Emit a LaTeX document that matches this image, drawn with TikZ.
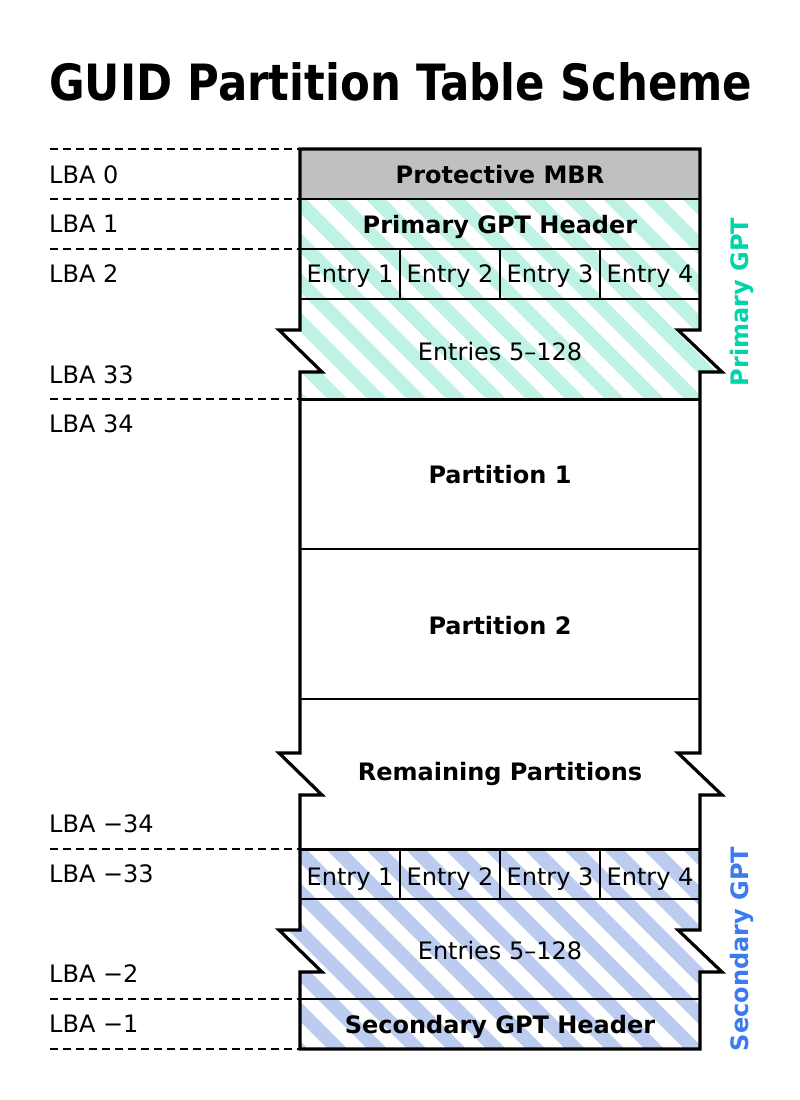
\documentclass[tikz,border=0pt]{standalone}
\usepackage{fontspec}
\setmainfont{DejaVu Sans}
\usepackage{graphicx}
\definecolor{mbrgray}{HTML}{C0C0C0}
\definecolor{pristripe}{HTML}{BDF2E4}
\definecolor{secstripe}{HTML}{BCCBF0}
\definecolor{pritext}{HTML}{00D4AA}
\definecolor{sectext}{HTML}{3A7BF0}
\newcommand\txtsz{\fontsize{24}{28}\selectfont}
\newcommand\ttlsz{\fontsize{50}{56}\selectfont}
\begin{document}
\begin{tikzpicture}[x=1pt,y=-1pt,
  lbl/.style={anchor=base west,inner sep=0pt,font=\txtsz},
  boxtxt/.style={anchor=base,inner sep=0pt,font=\txtsz},
  boldtxt/.style={anchor=base,inner sep=0pt,font=\txtsz\bfseries},
  sidetxt/.style={anchor=base,inner sep=0pt,rotate=90,font=\txtsz\bfseries},
  guide/.style={dash pattern=on 8pt off 5pt,line width=1.5pt},
  sepline/.style={line width=1.8pt},
  heavysep/.style={line width=3pt},
  border/.style={line width=3.2pt,line join=miter},
  stripeline/.style={line width=14pt}]
\useasboundingbox (0,0) rectangle (800,1100);

% title
\node[anchor=base west,inner sep=0pt] (title) at (49,100)
  {\resizebox{703pt}{\height}{\ttlsz\bfseries GUID Partition Table Scheme}};

% protective MBR
\fill[mbrgray] (300,149) rectangle (700,199);

% primary GPT striped area
\begin{scope}
  \clip (300,199) -- (700,199) -- (700,330) -- (678,330) -- (722,372) -- (700,372)
    -- (700,399) -- (300,399) -- (300,372) -- (322,372) -- (279,330) -- (300,330) -- cycle;
  \fill[white] (270,190) rectangle (730,410);
  \foreach \i in {0,...,22}
    \draw[stripeline,pristripe] ({10+\i*39.6},190) -- ++(230,230);
\end{scope}

% secondary GPT striped area
\begin{scope}
  \clip (300,849) -- (700,849) -- (700,930) -- (678,930) -- (722,972) -- (700,972)
    -- (700,1049) -- (300,1049) -- (300,972) -- (322,972) -- (279,930) -- (300,930) -- cycle;
  \fill[white] (270,840) rectangle (730,1060);
  \foreach \i in {0,...,22}
    \draw[stripeline,secstripe] ({10+\i*39.6},840) -- ++(230,230);
\end{scope}

% inner separators
\draw[sepline] (300,199) -- (700,199);
\draw[sepline] (300,249) -- (700,249);
\draw[sepline] (300,299) -- (700,299);
\draw[sepline] (400,249) -- (400,299);
\draw[sepline] (500,249) -- (500,299);
\draw[sepline] (600,249) -- (600,299);
\draw[heavysep] (300,399) -- (700,399);
\draw[sepline] (300,549) -- (700,549);
\draw[sepline] (300,699) -- (700,699);
\draw[heavysep] (300,849) -- (700,849);
\draw[sepline] (300,899) -- (700,899);
\draw[sepline] (400,849) -- (400,899);
\draw[sepline] (500,849) -- (500,899);
\draw[sepline] (600,849) -- (600,899);
\draw[sepline] (300,999) -- (700,999);

% outer border
\draw[border] (300,149) -- (700,149) -- (700,330) -- (678,330) -- (722,372) -- (700,372)
  -- (700,753) -- (678,753) -- (722,795) -- (700,795)
  -- (700,930) -- (678,930) -- (722,972) -- (700,972)
  -- (700,1049) -- (300,1049)
  -- (300,972) -- (322,972) -- (279,930) -- (300,930)
  -- (300,795) -- (322,795) -- (279,753) -- (300,753)
  -- (300,372) -- (322,372) -- (279,330) -- (300,330) -- cycle;

% guide lines
\foreach \y in {149,199,249,399,849,999,1049}
  \draw[guide] (50,\y) -- (299,\y);

% LBA labels
\node[lbl] (l0) at (49,183) {LBA 0};
\node[lbl] (l1) at (49,232) {LBA 1};
\node[lbl] (l2) at (49,282) {LBA 2};
\node[lbl] (l33) at (49,383) {LBA 33};
\node[lbl] (l34) at (49,432) {LBA 34};
\node[lbl] (lm34) at (49,832) {LBA −34};
\node[lbl] (lm33) at (49,882) {LBA −33};
\node[lbl] (lm2) at (49,982) {LBA −2};
\node[lbl] (lm1) at (49,1032) {LBA −1};

% box texts
\node[boldtxt] (mbr) at (500,183) {Protective MBR};
\node[boldtxt] (phdr) at (500,233) {Primary GPT Header};
\node[boxtxt] (pe1) at (350,282) {Entry 1};
\node[boxtxt] (pe2) at (450,282) {Entry 2};
\node[boxtxt] (pe3) at (550,282) {Entry 3};
\node[boxtxt] (pe4) at (650,282) {Entry 4};
\node[boxtxt] (pent) at (500,360) {Entries 5–128};
\node[boldtxt] (p1) at (500,483) {Partition 1};
\node[boldtxt] (p2) at (500,634) {Partition 2};
\node[boldtxt] (rem) at (500,780) {Remaining Partitions};
\node[boxtxt] (se1) at (350,885) {Entry 1};
\node[boxtxt] (se2) at (450,885) {Entry 2};
\node[boxtxt] (se3) at (550,885) {Entry 3};
\node[boxtxt] (se4) at (650,885) {Entry 4};
\node[boxtxt] (sent) at (500,959) {Entries 5–128};
\node[boldtxt] (shdr) at (500,1033) {Secondary GPT Header};

% side labels
\node[sidetxt,text=pritext] (pgpt) at (748,302) {Primary GPT};
\node[sidetxt,text=sectext] (sgpt) at (748,949) {Secondary GPT};
\end{tikzpicture}
\end{document}
